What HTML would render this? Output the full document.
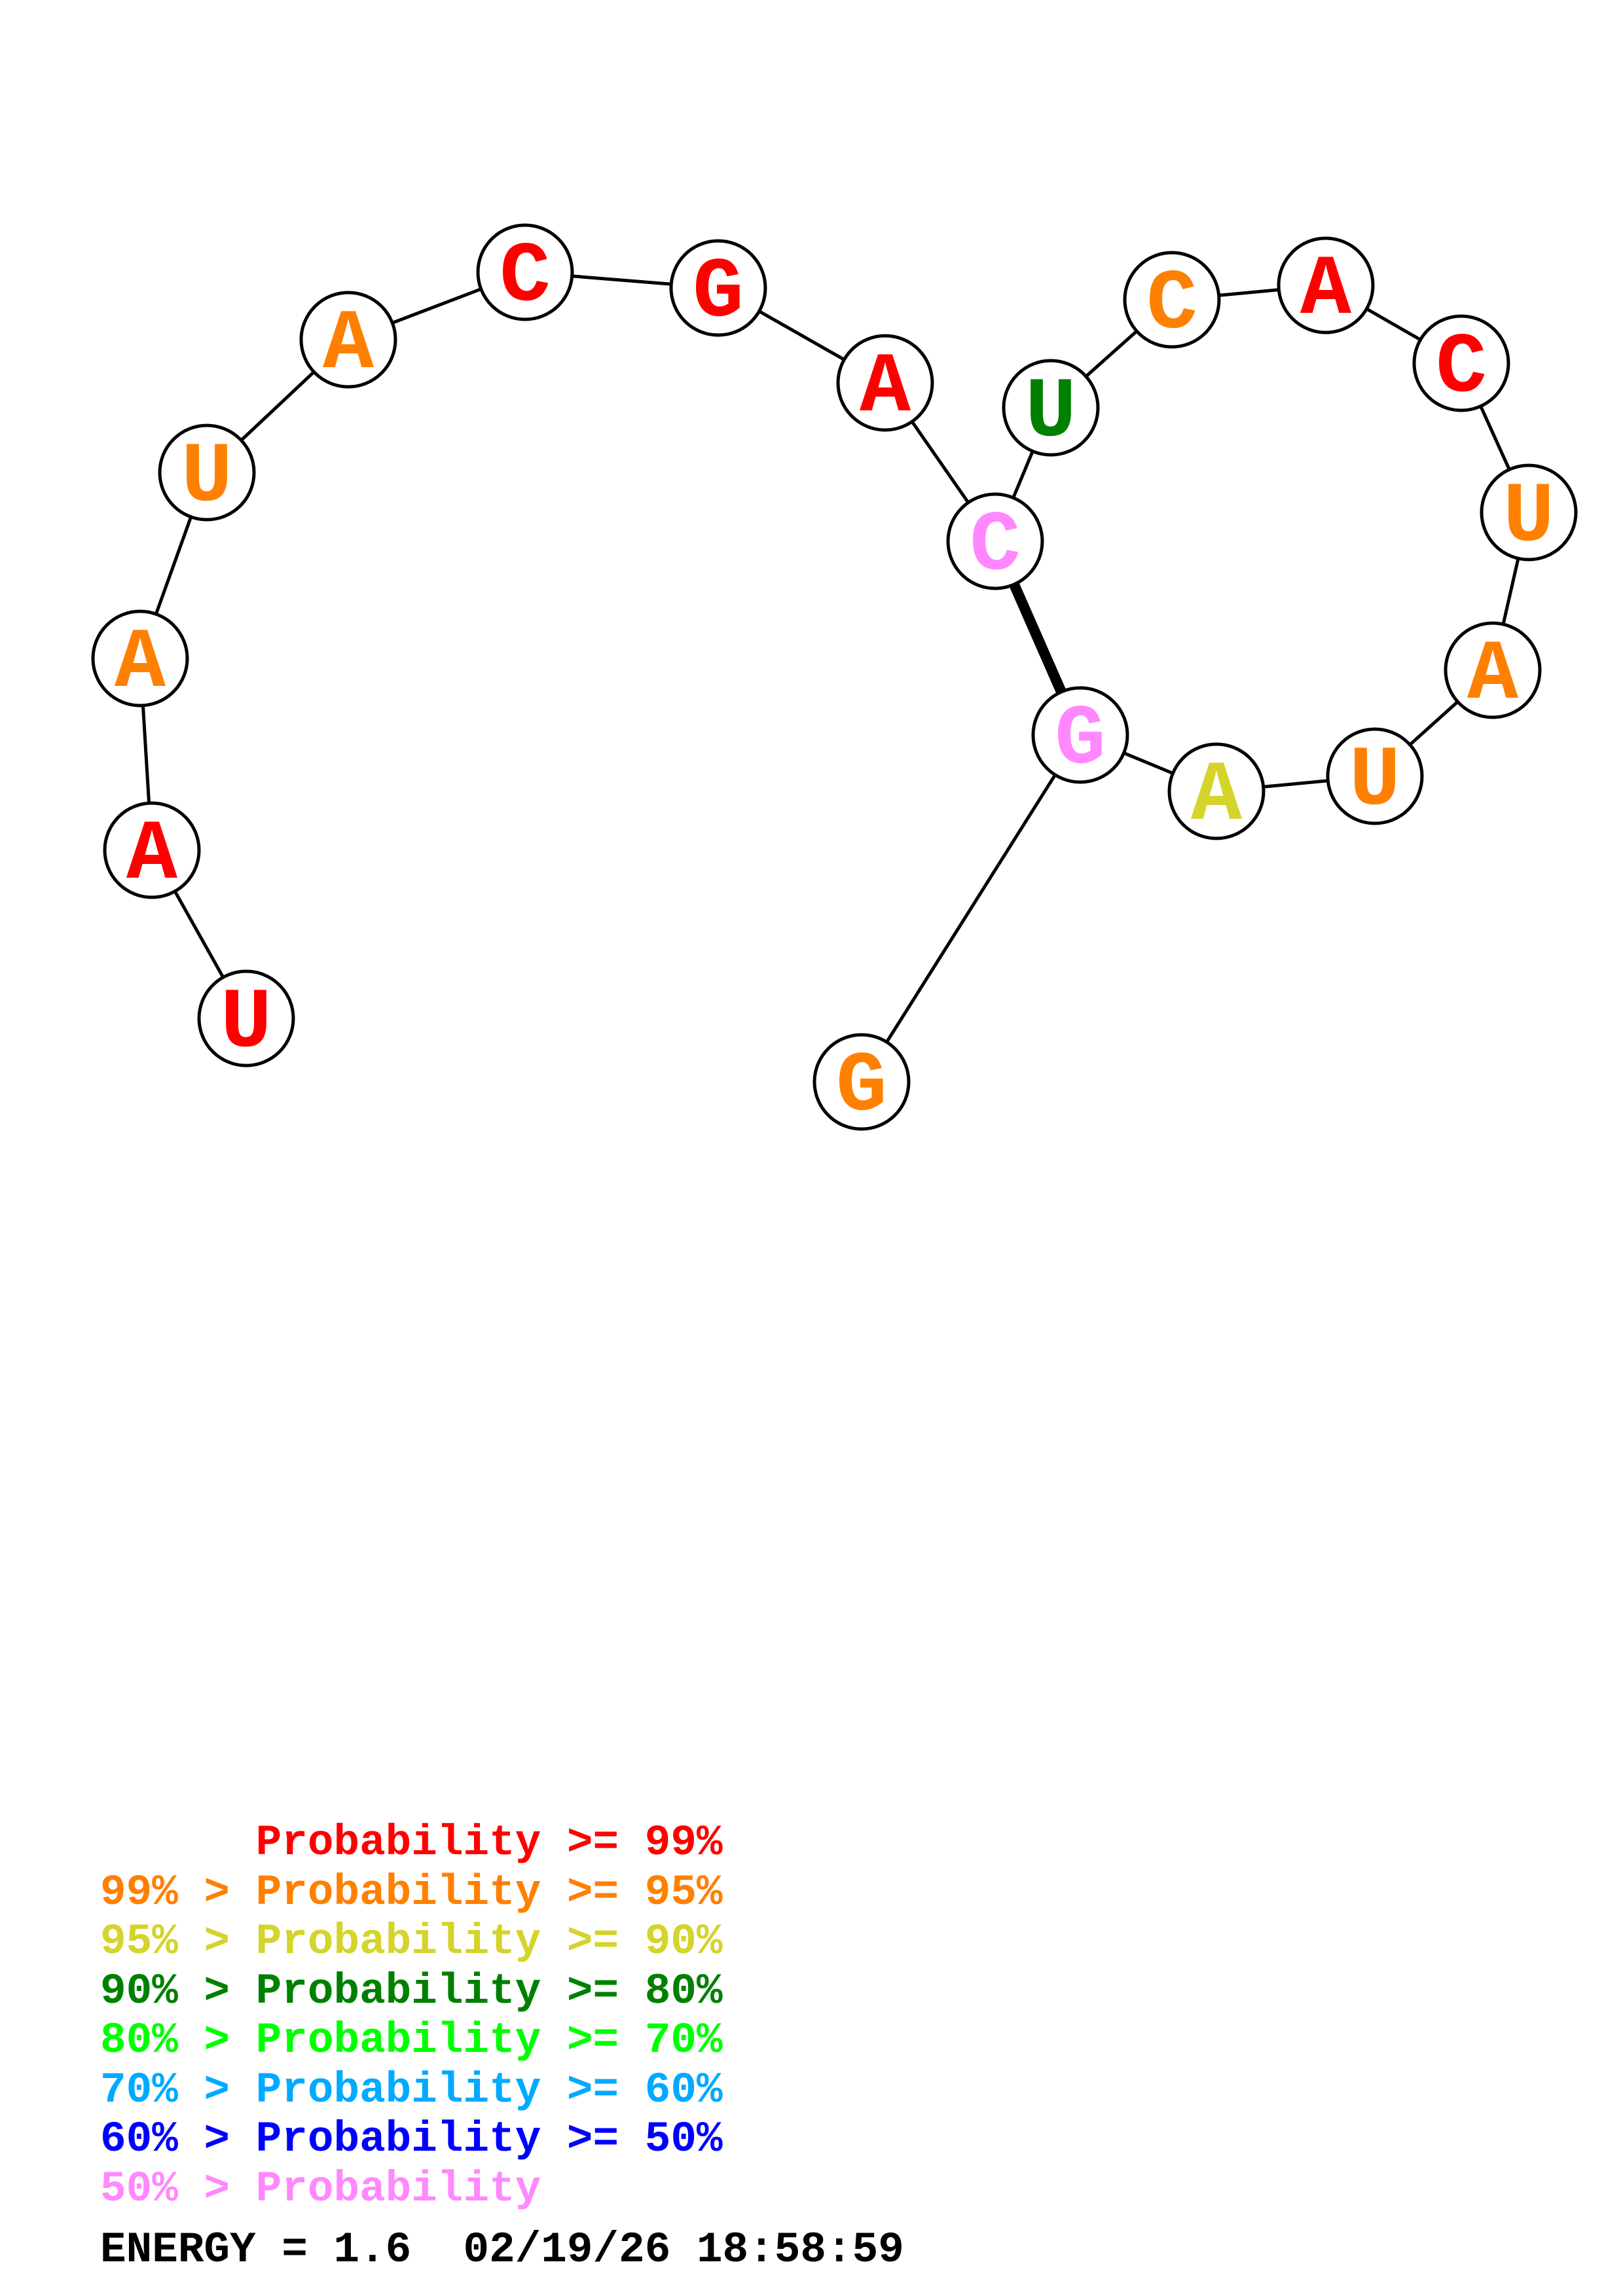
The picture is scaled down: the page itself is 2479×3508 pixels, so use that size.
<!DOCTYPE html>
<html><head><meta charset="utf-8"><style>html,body{margin:0;padding:0;background:#fff}svg{display:block}text{white-space:pre}</style></head>
<body>
<svg width="2479" height="3508" viewBox="0 0 2479 3508" xmlns="http://www.w3.org/2000/svg">
<g stroke="#000" stroke-width="5" fill="none">
<polyline points="376,1556 232,1299 214,1006 316,722 532,519 802,416 1097,440 1352,585 1520,827 1605,623 1790,458 2025,436 2232,555 2335,783 2280,1024 2100,1186 1858,1209 1650,1123 1316,1653"/>
<line x1="1520" y1="827" x2="1650" y2="1123" stroke-width="16"/>
</g>
<g fill="#fff" stroke="#000" stroke-width="5">
<circle cx="376" cy="1556" r="72"/><circle cx="232" cy="1299" r="72"/><circle cx="214" cy="1006" r="72"/><circle cx="316" cy="722" r="72"/><circle cx="532" cy="519" r="72"/><circle cx="802" cy="416" r="72"/><circle cx="1097" cy="440" r="72"/><circle cx="1352" cy="585" r="72"/><circle cx="1520" cy="827" r="72"/><circle cx="1605" cy="623" r="72"/><circle cx="1790" cy="458" r="72"/><circle cx="2025" cy="436" r="72"/><circle cx="2232" cy="555" r="72"/><circle cx="2335" cy="783" r="72"/><circle cx="2280" cy="1024" r="72"/><circle cx="2100" cy="1186" r="72"/><circle cx="1858" cy="1209" r="72"/><circle cx="1650" cy="1123" r="72"/><circle cx="1316" cy="1653" r="72"/>
</g>
<g font-family="'Liberation Mono',monospace" font-weight="bold" font-size="130" text-anchor="middle">
<text x="376" y="1598" fill="#ff0000">U</text>
<text x="232" y="1341" fill="#ff0000">A</text>
<text x="214" y="1048" fill="#ff8000">A</text>
<text x="316" y="764" fill="#ff8000">U</text>
<text x="532" y="561" fill="#ff8000">A</text>
<text x="802" y="458" fill="#ff0000">C</text>
<text x="1097" y="482" fill="#ff0000">G</text>
<text x="1352" y="627" fill="#ff0000">A</text>
<text x="1520" y="869" fill="#ff88ff">C</text>
<text x="1605" y="665" fill="#008000">U</text>
<text x="1790" y="500" fill="#ff8000">C</text>
<text x="2025" y="478" fill="#ff0000">A</text>
<text x="2232" y="597" fill="#ff0000">C</text>
<text x="2335" y="825" fill="#ff8000">U</text>
<text x="2280" y="1066" fill="#ff8000">A</text>
<text x="2100" y="1228" fill="#ff8000">U</text>
<text x="1858" y="1251" fill="#d4d42a">A</text>
<text x="1650" y="1165" fill="#ff88ff">G</text>
<text x="1316" y="1695" fill="#ff8000">G</text>
</g>
<g font-family="'Liberation Mono',monospace" font-weight="bold" font-size="66">
<text x="153" y="2833" fill="#ff0000">      Probability &gt;= 99%</text>
<text x="153" y="2909" fill="#ff8000">99% &gt; Probability &gt;= 95%</text>
<text x="153" y="2984" fill="#d4d42a">95% &gt; Probability &gt;= 90%</text>
<text x="153" y="3060" fill="#008000">90% &gt; Probability &gt;= 80%</text>
<text x="153" y="3135" fill="#00ff00">80% &gt; Probability &gt;= 70%</text>
<text x="153" y="3211" fill="#00aaff">70% &gt; Probability &gt;= 60%</text>
<text x="153" y="3286" fill="#0000ff">60% &gt; Probability &gt;= 50%</text>
<text x="153" y="3362" fill="#ff88ff">50% &gt; Probability</text>
<text x="153" y="3455" fill="#000">ENERGY = 1.6  02/19/26 18:58:59</text>
</g>
</svg>
</body></html>
